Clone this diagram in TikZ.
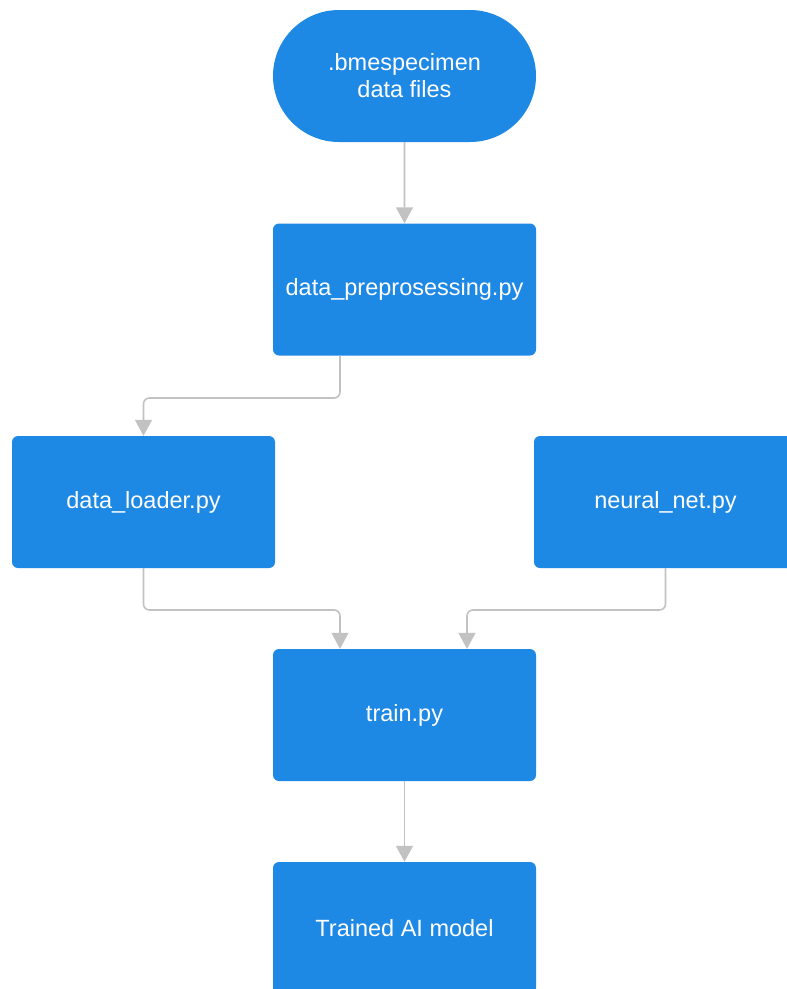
\documentclass[tikz,border=0pt]{standalone}
\usepackage{fontspec}
\setmainfont{Liberation Sans}
\usetikzlibrary{arrows.meta,shapes.misc}
\definecolor{boxblue}{HTML}{1E88E5}
\definecolor{linegray}{HTML}{C2C2C2}
\begin{document}
\begin{tikzpicture}[x=1pt,y=-1pt,
  procbox/.style={fill=boxblue,draw=none,rounded corners=6pt,minimum width=263pt,minimum height=132pt,inner sep=0pt,text=white,font=\fontsize{23.5}{27}\selectfont,align=center},
  termbox/.style={procbox,rounded rectangle,rounded corners=0pt},
  conn/.style={draw=linegray,line width=1.6pt,rounded corners=6pt,-{Triangle[length=16pt,width=17pt]}}]
\useasboundingbox (0,0) rectangle (787,989);
\node[termbox] (src) at (404.5,76) {.bmespecimen\\data files};
\node[procbox] (pre) at (404.5,289.5) {data\_preprosessing.py};
\node[procbox] (load) at (143.5,502) {data\_loader.py};
\node[procbox] (net) at (665.5,502) {neural\_net.py};
\node[procbox] (train) at (404.5,715) {train.py};
\node[procbox] (model) at (404.5,928) {Trained AI model};
\draw[conn] (src) -- (pre);
\draw[conn] (pre.south -| 340,0) |- (0,398 -| load.north) -- (load.north);
\draw[conn] (load.south) |- (340,610) -- (train.north -| 340,0);
\draw[conn] (net.south) |- (467,610) -- (train.north -| 467,0);
\draw[conn] (train) -- (model);
\end{tikzpicture}
\end{document}
